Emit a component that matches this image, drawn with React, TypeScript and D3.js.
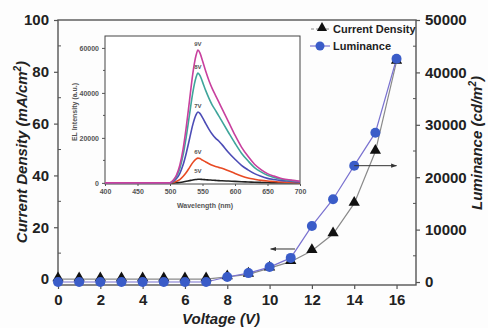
import React, { useRef, useEffect } from "react";
import * as d3 from "d3";

// main plot data
const voltage = [0, 1, 2, 3, 4, 5, 6, 7, 8, 9, 10, 11, 12, 13, 14, 15, 16];
const currentDensity = [0, 0, 0, 0, 0, 0, 0, 0, 0.8, 1.8, 4.2, 6.7, 10.9, 17.4, 29.2, 49.2, 84];
const luminance = [0, 0, 0, 0, 0, 0, 0, 0, 950, 1700, 2850, 4600, 10700, 15800, 22200, 28500, 42600];

const xTicks = [0, 2, 4, 6, 8, 10, 12, 14, 16];
const leftTicks = [0, 20, 40, 60, 80, 100];
const rightTicks = [0, 10000, 20000, 30000, 40000, 50000];

// inset EL spectra
const wavelength = [400, 450, 500, 505, 510, 515, 520, 525, 530, 535, 540, 543, 546, 550, 555, 560, 565, 570, 575, 580, 590, 600, 610, 620, 630, 640, 650, 660, 670, 680, 690, 700];
const el9V = [0, 0, 0, 1200, 3500, 7700, 14800, 24800, 36600, 48400, 56600, 59000, 57800, 54300, 49600, 45400, 41900, 38900, 36000, 33000, 27100, 21200, 15900, 11800, 8300, 5900, 4100, 3000, 2100, 1500, 1100, 700];
const el8V = [0, 0, 0, 1000, 2900, 6300, 12200, 20500, 30300, 40000, 46800, 48800, 47800, 44900, 41000, 37600, 34600, 32200, 29800, 27300, 22400, 17600, 13200, 9800, 6800, 4900, 3400, 2400, 1700, 1200, 900, 600];
const el7V = [0, 0, 0, 600, 1900, 4100, 7900, 13200, 19500, 25800, 30200, 31500, 30900, 29000, 26300, 23800, 21600, 19900, 18600, 17000, 13500, 10500, 7800, 5800, 4100, 2900, 2000, 1500, 1100, 800, 500, 400];
const el6V = [0, 0, 0, 200, 700, 1400, 2800, 4600, 6800, 9000, 10600, 11000, 10800, 10100, 9300, 8500, 7800, 7300, 6900, 6500, 5400, 4200, 3100, 2200, 1600, 1100, 800, 600, 400, 300, 200, 100];
const el5V = [0, 0, 0, 0, 100, 200, 400, 700, 1000, 1300, 1500, 1600, 1600, 1500, 1400, 1300, 1200, 1100, 1000, 950, 800, 650, 500, 400, 300, 200, 150, 100, 80, 60, 40, 30];
const elLabels = ["9V", "8V", "7V", "6V", "5V"];
const elColors = ["#c8409e", "#3fa59b", "#4c4cb6", "#e84a24", "#222222"];
const elTicksX = [400, 450, 500, 550, 600, 650, 700];
const elTicksY = [0, 20000, 40000, 60000];

const App = () => {
  const svgRef = useRef(null);

  useEffect(() => {
    document.body.style.margin = "0";
    const svg = d3.select(svgRef.current);
    svg.selectAll("*").remove();

    const W = 488, H = 328;
    const left = 58, right = 416, top = 20, bottom = 285;
    const font = "'Liberation Sans', Arial, sans-serif";

    svg.attr("width", W).attr("height", H).style("font-family", font);
    svg.append("rect").attr("width", W).attr("height", H).attr("fill", "#fdfdfd");

    const x = d3.scaleLinear().domain([0, 16.92]).range([left, right]);
    const yL = d3.scaleLinear().domain([-2.3, 100]).range([bottom, top]);
    const yR = d3.scaleLinear().domain([-570, 50000]).range([bottom, top]);

    // frame
    svg.append("rect").attr("x", left).attr("y", top)
      .attr("width", right - left).attr("height", bottom - top)
      .attr("fill", "none").attr("stroke", "#555").attr("stroke-width", 1.4);

    // axes
    const axB = svg.append("g").attr("transform", `translate(0,${bottom})`)
      .call(d3.axisBottom(x).tickValues(xTicks).tickSize(4).tickPadding(5).tickFormat(d3.format("d")));
    const axL = svg.append("g").attr("transform", `translate(${left},0)`)
      .call(d3.axisLeft(yL).tickValues(leftTicks).tickSize(4).tickPadding(5).tickFormat(d3.format("d")));
    const axR = svg.append("g").attr("transform", `translate(${right},0)`)
      .call(d3.axisRight(yR).tickValues(rightTicks).tickSize(4).tickPadding(5).tickFormat(d3.format("d")));
    [axB, axL, axR].forEach((g) => {
      g.select(".domain").remove();
      g.selectAll("line").attr("stroke", "#555").attr("stroke-width", 1.2);
      g.selectAll("text").attr("fill", "#222").style("font-size", "15px")
        .style("font-weight", "bold").style("font-family", font);
    });

    // minor ticks
    d3.range(10, 100, 20).forEach((v) => {
      svg.append("line").attr("x1", left).attr("x2", left + 3).attr("y1", yL(v)).attr("y2", yL(v))
        .attr("stroke", "#555");
    });
    d3.range(5000, 50000, 10000).forEach((v) => {
      svg.append("line").attr("x1", right - 3).attr("x2", right).attr("y1", yR(v)).attr("y2", yR(v))
        .attr("stroke", "#555");
    });

    // axis titles
    svg.append("text").attr("x", 221).attr("y", 324).attr("text-anchor", "middle")
      .style("font-size", "15px").style("font-weight", "bold").style("font-style", "italic")
      .attr("fill", "#222").text("Voltage (V)");

    const tl = svg.append("text").attr("transform", "translate(27,152) rotate(-90)")
      .attr("text-anchor", "middle").style("font-size", "15px").style("font-weight", "bold")
      .style("font-style", "italic").attr("fill", "#222");
    tl.append("tspan").text("Current Density (mA/cm");
    tl.append("tspan").attr("dy", -6).style("font-size", "10px").text("2");
    tl.append("tspan").attr("dy", 6).text(")");

    const tr = svg.append("text").attr("transform", "translate(482,143) rotate(-90)")
      .attr("text-anchor", "middle").style("font-size", "15px").style("font-weight", "bold")
      .style("font-style", "italic").attr("fill", "#222");
    tr.append("tspan").text("Luminance (cd/m");
    tr.append("tspan").attr("dy", -6).style("font-size", "10px").text("2");
    tr.append("tspan").attr("dy", 6).text(")");

    // series lines
    const lineJ = d3.line<number>().x((d, i) => x(voltage[i])).y((d) => yL(d));
    const lineL = d3.line<number>().x((d, i) => x(voltage[i])).y((d) => yR(d));
    svg.append("path").datum(currentDensity).attr("d", lineJ)
      .attr("fill", "none").attr("stroke", "#8a8a8a").attr("stroke-width", 1.2);
    svg.append("path").datum(luminance).attr("d", lineL)
      .attr("fill", "none").attr("stroke", "#7a72d0").attr("stroke-width", 1.2);

    const tri = d3.symbol().type(d3.symbolTriangle).size(55);
    svg.append("g").selectAll("path").data(currentDensity).join("path")
      .attr("d", tri).attr("transform", (d, i) => `translate(${x(voltage[i])},${yL(d) - 1})`)
      .attr("fill", "#111");
    svg.append("g").selectAll("circle").data(luminance).join("circle")
      .attr("cx", (d, i) => x(voltage[i])).attr("cy", (d) => yR(d)).attr("r", 5)
      .attr("fill", "#3a5cc8");

    // arrows
    const defs = svg.append("defs");
    defs.append("marker").attr("id", "ah").attr("viewBox", "0 0 10 10").attr("refX", 9).attr("refY", 5)
      .attr("markerWidth", 6).attr("markerHeight", 6).attr("orient", "auto")
      .append("path").attr("d", "M0,1.5L10,5L0,8.5Z").attr("fill", "#333");
    svg.append("line").attr("x1", x(11.2)).attr("x2", x(10.05)).attr("y1", yL(11.6)).attr("y2", yL(11.6))
      .attr("stroke", "#333").attr("stroke-width", 1).attr("marker-end", "url(#ah)");
    svg.append("line").attr("x1", x(14.0)).attr("x2", x(16.0)).attr("y1", yR(22200)).attr("y2", yR(22200))
      .attr("stroke", "#333").attr("stroke-width", 1).attr("marker-end", "url(#ah)");

    // legend
    const lg = svg.append("g").style("font-size", "11px").style("font-weight", "bold").attr("fill", "#222");
    lg.append("line").attr("x1", 311).attr("x2", 331).attr("y1", 29).attr("y2", 29)
      .attr("stroke", "#8a8a8a").attr("stroke-dasharray", "3,2");
    lg.append("path").attr("d", d3.symbol().type(d3.symbolTriangle).size(45)).attr("transform", "translate(322,28)")
      .attr("fill", "#111");
    lg.append("text").attr("x", 333).attr("y", 33).text("Current Density");
    lg.append("line").attr("x1", 310).attr("x2", 330).attr("y1", 46).attr("y2", 46)
      .attr("stroke", "#7a72d0").attr("stroke-width", 1.2);
    lg.append("circle").attr("cx", 320).attr("cy", 46).attr("r", 4.5).attr("fill", "#3a5cc8");
    lg.append("text").attr("x", 333).attr("y", 50).text("Luminance");

    // inset
    const iL = 105, iR = 300, iT = 36, iB = 184;
    const xi = d3.scaleLinear().domain([400, 700]).range([iL, iR]);
    const yi = d3.scaleLinear().domain([-500, 65300]).range([iB, iT]);
    svg.append("rect").attr("x", iL).attr("y", iT).attr("width", iR - iL).attr("height", iB - iT)
      .attr("fill", "#fff").attr("stroke", "#444").attr("stroke-width", 1);

    const axIB = svg.append("g").attr("transform", `translate(0,${iB})`)
      .call(d3.axisBottom(xi).tickValues(elTicksX).tickSize(2).tickPadding(3).tickFormat(d3.format("d")));
    const axIL = svg.append("g").attr("transform", `translate(${iL},0)`)
      .call(d3.axisLeft(yi).tickValues(elTicksY).tickSize(3).tickPadding(3).tickFormat(d3.format("d")));
    [axIB, axIL].forEach((g) => {
      g.select(".domain").remove();
      g.selectAll("line").attr("stroke", "#555");
      g.selectAll("text").attr("fill", "#555").style("font-size", "7px")
        .style("font-weight", "bold").style("font-family", font);
    });
    d3.range(10000, 65000, 20000).forEach((v) => {
      svg.append("line").attr("x1", iL - 2).attr("x2", iL).attr("y1", yi(v)).attr("y2", yi(v)).attr("stroke", "#555");
    });
    svg.append("text").attr("x", 205).attr("y", 208).attr("text-anchor", "middle")
      .style("font-size", "7px").style("font-weight", "bold").attr("fill", "#555").text("Wavelength (nm)");
    svg.append("text").attr("transform", "translate(77,112) rotate(-90)").attr("text-anchor", "middle")
      .style("font-size", "7px").style("font-weight", "bold").attr("fill", "#555").text("EL Intensity (a.u.)");

    const elLine = d3.line<number>().x((d, i) => xi(wavelength[i])).y((d) => yi(d)).curve(d3.curveMonotoneX);
    const spectra = [el5V, el6V, el7V, el8V, el9V];
    const spectraColors = [elColors[4], elColors[3], elColors[2], elColors[1], elColors[0]];
    spectra.forEach((s, k) => {
      svg.append("path").datum(s).attr("d", elLine).attr("fill", "none")
        .attr("stroke", spectraColors[k]).attr("stroke-width", 1.6);
    });
    const peaks = [el9V, el8V, el7V, el6V, el5V];
    peaks.forEach((s, k) => {
      svg.append("text").attr("x", xi(543)).attr("y", yi(d3.max(s)) - (k === 4 ? 6 : 4))
        .attr("text-anchor", "middle").style("font-size", "6px").style("font-weight", "bold")
        .attr("fill", "#555").text(elLabels[k]);
    });
  }, []);

  return <svg ref={svgRef}></svg>;
};

export default App;
